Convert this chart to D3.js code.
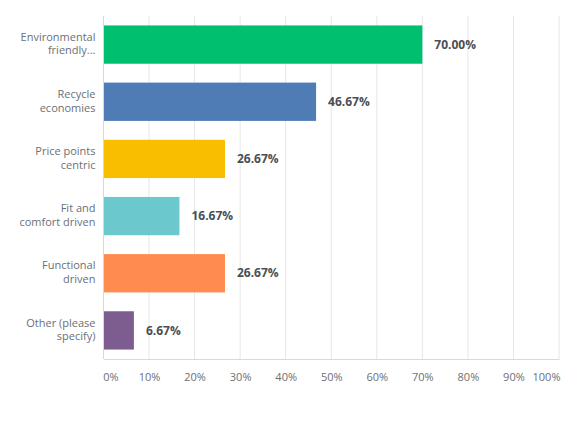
<!DOCTYPE html>
<html>
<head>
<meta charset="utf-8">
<script src="https://cdn.jsdelivr.net/npm/d3@7"></script>
<style>
  body { margin: 0; background: #fff; }
  text { font-family: "Open Sans", "Noto Sans", sans-serif; }
</style>
</head>
<body>
<div id="chart"></div>
<script>
// answer choices, in order from top to bottom
var answers = [["Environmental", "friendly..."], ["Recycle", "economies"], ["Price points", "centric"],
               ["Fit and", "comfort driven"], ["Functional", "driven"], ["Other (please", "specify)"]];
var shares = [70.00, 46.67, 26.67, 16.67, 26.67, 6.67];
var barColors = ["#00bf6f", "#507cb6", "#f9be00", "#6bc8cd", "#ff8b4f", "#7d5c90"];
var tickValues = [0, 10, 20, 30, 40, 50, 60, 70, 80, 90, 100];

var margin = {top: 16, right: 22, bottom: 62, left: 103.5},
    width = 581 - margin.left - margin.right,
    height = 421 - margin.top - margin.bottom;

let svg = d3.select("#chart").append("svg")
    .attr("width", 581)
    .attr("height", 421)
  .append("g")
    .attr("transform", "translate(" + margin.left + "," + margin.top + ")");

let xScale = d3.scaleLinear().domain([0, 100]).range([0, width]);
let yScale = d3.scaleBand()
    .domain(d3.range(answers.length))
    .range([0, height])
    .paddingInner(0.33)
    .paddingOuter(0.165);

// vertical gridlines
svg.append("g").selectAll("line")
    .data(tickValues.slice(1))
    .enter().append("line")
    .attr("x1", d => xScale(d)).attr("x2", d => xScale(d))
    .attr("y1", 0).attr("y2", height)
    .attr("stroke", "#e6e6e6")
    .attr("stroke-width", 1);

// bottom axis
let xAxis = d3.axisBottom(xScale)
    .tickValues(tickValues)
    .tickSize(0)
    .tickPadding(14)
    .tickFormat(d => d + "%");
let gx = svg.append("g")
    .attr("transform", "translate(0," + height + ")")
    .call(xAxis);
gx.select(".domain").attr("stroke", "#d9d9d9");
gx.selectAll("text")
    .attr("fill", "#6b6f76")
    .style("font-size", "11px")
    .attr("dx", (d, i) => i == 0 ? "7" : (d == 100 ? "-13" : "0"));

// left axis line
svg.append("line")
    .attr("x1", 0).attr("x2", 0).attr("y1", 0).attr("y2", height)
    .attr("stroke", "#d9d9d9");

// bars
svg.append("g").selectAll("rect")
    .data(shares)
    .enter().append("rect")
    .attr("x", 0.5)
    .attr("y", (d, i) => yScale(i))
    .attr("width", d => xScale(d) - 0.5)
    .attr("height", yScale.bandwidth())
    .attr("fill", (d, i) => barColors[i]);

// value labels
svg.append("g").selectAll("text")
    .data(shares)
    .enter().append("text")
    .attr("x", d => xScale(d) + 12)
    .attr("y", (d, i) => yScale(i) + yScale.bandwidth() / 2)
    .attr("dy", "0.35em")
    .attr("fill", "#4a4e55")
    .style("font-size", "12px")
    .style("font-weight", "bold")
    .text(d => d.toFixed(2) + "%");

// category labels (two lines each)
let cat = svg.append("g").selectAll("text")
    .data(answers)
    .enter().append("text")
    .attr("text-anchor", "end")
    .attr("x", -8)
    .attr("y", (d, i) => yScale(i) + yScale.bandwidth() / 2)
    .attr("fill", "#6b6f76")
    .style("font-size", "11px");
cat.selectAll("tspan")
    .data(d => d)
    .enter().append("tspan")
    .attr("x", -8)
    .attr("dy", (d, j) => j == 0 ? "-0.35em" : "1.25em")
    .text(d => d);
</script>
</body>
</html>
